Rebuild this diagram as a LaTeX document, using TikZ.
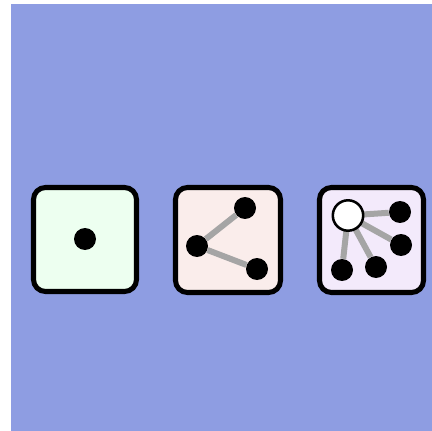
\documentclass[tikz,border=0pt]{standalone}
\begin{document}
\begin{tikzpicture}[x=0.75pt,y=-0.75pt,
  panel/.style={draw=black,line width=3.8pt,rounded corners=9pt},
  dot/.style={circle,fill=black,inner sep=0pt,minimum size=16.5pt},
  hub/.style={circle,fill=white,draw=black,line width=1.9pt,inner sep=0pt,minimum size=22.8pt},
  link/.style={draw=linkgray,line width=4.5pt}]
\definecolor{bg}{RGB}{142,157,226}
\definecolor{fillA}{RGB}{237,255,240}
\definecolor{fillB}{RGB}{250,237,235}
\definecolor{fillC}{RGB}{243,234,251}
\definecolor{linkgray}{RGB}{165,165,165}
\useasboundingbox (0,0) rectangle (432,431);
\fill[white] (0,0) rectangle (432,431);
\fill[bg] (11,4) rectangle (432,431);
% panels
\draw[panel,fill=fillA] (33.5,187.5) rectangle (136.5,291.5);
\draw[panel,fill=fillB] (175.5,187.5) rectangle (280.5,292.5);
\draw[panel,fill=fillC] (319.5,187.5) rectangle (423.5,292.5);
% panel 1
\node[dot] (a1) at (85,239) {};
% panel 2
\node[dot] (b1) at (197,246) {};
\node[dot] (b2) at (245,208) {};
\node[dot] (b3) at (257,269) {};
\draw[link] (b1) -- (b2);
\draw[link] (b1) -- (b3);
% panel 3
\node[dot] (c1) at (400,212) {};
\node[dot] (c2) at (401,245) {};
\node[dot] (c3) at (376,267) {};
\node[dot] (c4) at (342,270) {};
\coordinate (hc) at (348,215.5);
\draw[link] (hc) -- (c1);
\draw[link] (hc) -- (c2);
\draw[link] (hc) -- (c3);
\draw[link] (hc) -- (c4);
\node[hub] (h) at (hc) {};
\end{tikzpicture}
\end{document}
